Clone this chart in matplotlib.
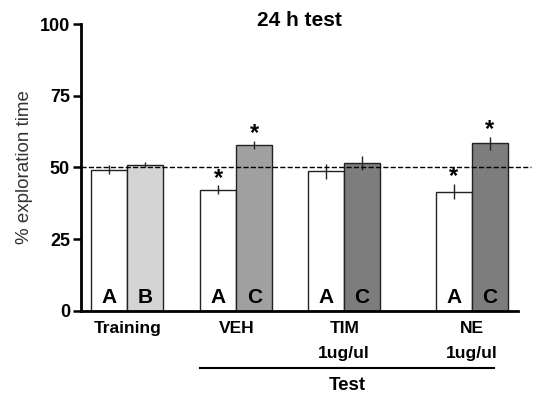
import matplotlib.pyplot as plt

# data
groups = ["Training", "VEH", "TIM\n1ug/ul", "NE\n1ug/ul"]
pos = [0, 3.03, 6.03, 9.58]
val_a = [49.2, 42.3, 48.7, 41.6]
err_a = [1.5, 1.5, 2.6, 2.7]
val_b = [51.0, 57.8, 51.5, 58.5]
err_b = [1.0, 1.5, 2.4, 2.3]
lab_a = ["A", "A", "A", "A"]
lab_b = ["B", "C", "C", "C"]
col_b = ["#d4d4d4", "#a0a0a0", "#7d7d7d", "#7d7d7d"]
star_a = [False, True, False, True]
star_b = [False, True, False, True]

plt.rcParams['font.family'] = ['Liberation Sans', 'DejaVu Sans']

fig = plt.figure(figsize=(5.34, 3.95), dpi=100)
ax = fig.add_axes([0.152, 0.213, 0.818, 0.726])

xa = [p - 0.5 for p in pos]
xb = [p + 0.5 for p in pos]
ax.bar(xa, val_a, width=1, color="white", edgecolor="#222222", linewidth=1, zorder=2)
ax.bar(xb, val_b, width=1, color=col_b, edgecolor="#222222", linewidth=1, zorder=2)
ax.errorbar(xa, val_a, yerr=err_a, fmt="none", ecolor="#222222", elinewidth=1, capsize=0, zorder=3)
ax.errorbar(xb, val_b, yerr=err_b, fmt="none", ecolor="#222222", elinewidth=1, capsize=0, zorder=3)

for i in range(len(pos)):
    ax.text(xa[i], 1.5, lab_a[i], ha="center", va="bottom", fontsize=15, fontweight="bold")
    ax.text(xb[i], 1.5, lab_b[i], ha="center", va="bottom", fontsize=15, fontweight="bold")
    if star_a[i]:
        ax.text(xa[i], val_a[i] + err_a[i] - 1.5, "*", ha="center", va="bottom", fontsize=17,
                fontweight="bold")
    if star_b[i]:
        ax.text(xb[i], val_b[i] + err_b[i] - 1.5, "*", ha="center", va="bottom", fontsize=17,
                fontweight="bold")

# chance line
ax.plot([0, 1.03], [50, 50], transform=ax.get_yaxis_transform(), ls="--", color="black",
        lw=1, clip_on=False, zorder=4)

ax.set_xlim(-1.28, 10.86)
ax.set_ylim(0, 100)
ax.set_yticks([0, 25, 50, 75, 100])
ax.set_xticks([])
for lbl in ax.get_yticklabels():
    lbl.set_fontweight("bold")
ax.tick_params(axis="y", direction="out", length=6, width=1.8, labelsize=13, pad=2)
ax.spines["top"].set_visible(False)
ax.spines["right"].set_visible(False)
ax.spines["left"].set_linewidth(2)
ax.spines["bottom"].set_linewidth(2)
ax.set_ylabel("% exploration time", fontsize=13.5, color="#333333", labelpad=5)
# title sits slightly below the top of the y axis in the original
fig.text(0.561, 0.947, "24 h test", ha="center", va="center", fontsize=15, fontweight="bold")

# group labels under the axis
for p, g in zip(pos, groups):
    ax.text(p, -3.5, g, ha="center", va="top", fontsize=12.5, fontweight="bold",
            linespacing=1.8, clip_on=False)

ax.plot([xa[1] - 0.5, xb[3] + 0.1], [-20, -20], color="black", lw=1.5, clip_on=False)
ax.text((xa[1] - 0.5 + xb[3]) / 2 + 0.05, -23, "Test", ha="center", va="top",
        fontsize=13.5, fontweight="bold")

fig.savefig("out.png", dpi=100)
